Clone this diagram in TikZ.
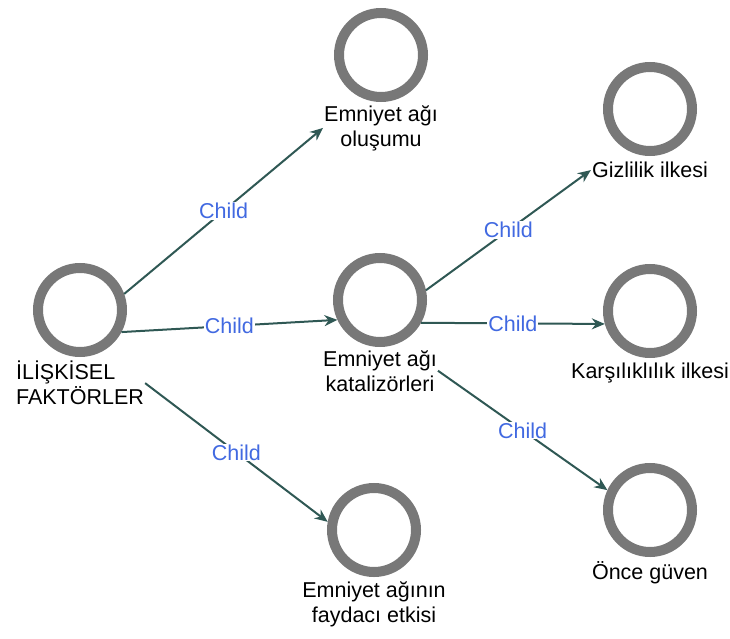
\documentclass[tikz,border=0pt]{standalone}
\usepackage{fontspec}
\setmainfont{Liberation Sans}
\usepackage{xcolor}
\usetikzlibrary{arrows.meta,positioning}
\definecolor{ringgray}{RGB}{120,120,120}
\definecolor{linkteal}{RGB}{47,88,84}
\definecolor{childblue}{RGB}{65,105,225}

\begin{document}
\begin{tikzpicture}[x=1pt, y=-1pt,
    ring/.style={circle, draw=ringgray, line width=10pt, minimum size=84pt, inner sep=0pt},
    caption/.style={font=\fontsize{21.5}{25}\selectfont, align=center, inner sep=1pt},
    childlbl/.style={fill=white, text=childblue, font=\fontsize{21.5}{25}\selectfont, inner sep=1pt},
    link/.style={draw=linkteal, line width=2pt, -{Stealth[length=13pt,width=11pt]}}
]
\useasboundingbox (0,0) rectangle (730,639);

% nodes
\node[ring] (root) at (80,310) {};
\node[caption, align=left, below=3pt of root] (roottxt) {İLİŞKİSEL\\FAKTÖRLER};

\node[ring] (olusum) at (381,55) {};
\node[caption, below=2pt of olusum] (olusumtxt) {Emniyet ağı\\oluşumu};

\node[ring] (katal) at (380,300) {};
\node[caption, below=2pt of katal] (kataltxt) {Emniyet ağı\\katalizörleri};

\node[ring] (fayda) at (374,530) {};
\node[caption, below=3pt of fayda] (faydatxt) {Emniyet ağının\\faydacı etkisi};

\node[ring] (gizli) at (650,109) {};
\node[caption, below=5pt of gizli] (gizlitxt) {Gizlilik ilkesi};

\node[ring] (karsi) at (650,311) {};
\node[caption, below=4pt of karsi] (karsitxt) {Karşılıklılık ilkesi};

\node[ring] (once) at (650,510) {};
\node[caption, below=3pt of once] (oncetxt) {Önce güven};

% links
\draw[link] (root.20) -- node[childlbl] {Child} (olusumtxt.west);
\draw[link] (root.-28) -- node[childlbl] {Child} (katal.205);
\draw[link] (roottxt.east) -- node[childlbl] {Child} (fayda.170);
\draw[link] (katal.12) -- node[childlbl] {Child} (gizlitxt.west);
\draw[link] (katal.-29) -- node[childlbl] {Child} (karsi.196);
\draw[link] (kataltxt.east) -- node[childlbl] {Child} (once.155);

\end{tikzpicture}
\end{document}
